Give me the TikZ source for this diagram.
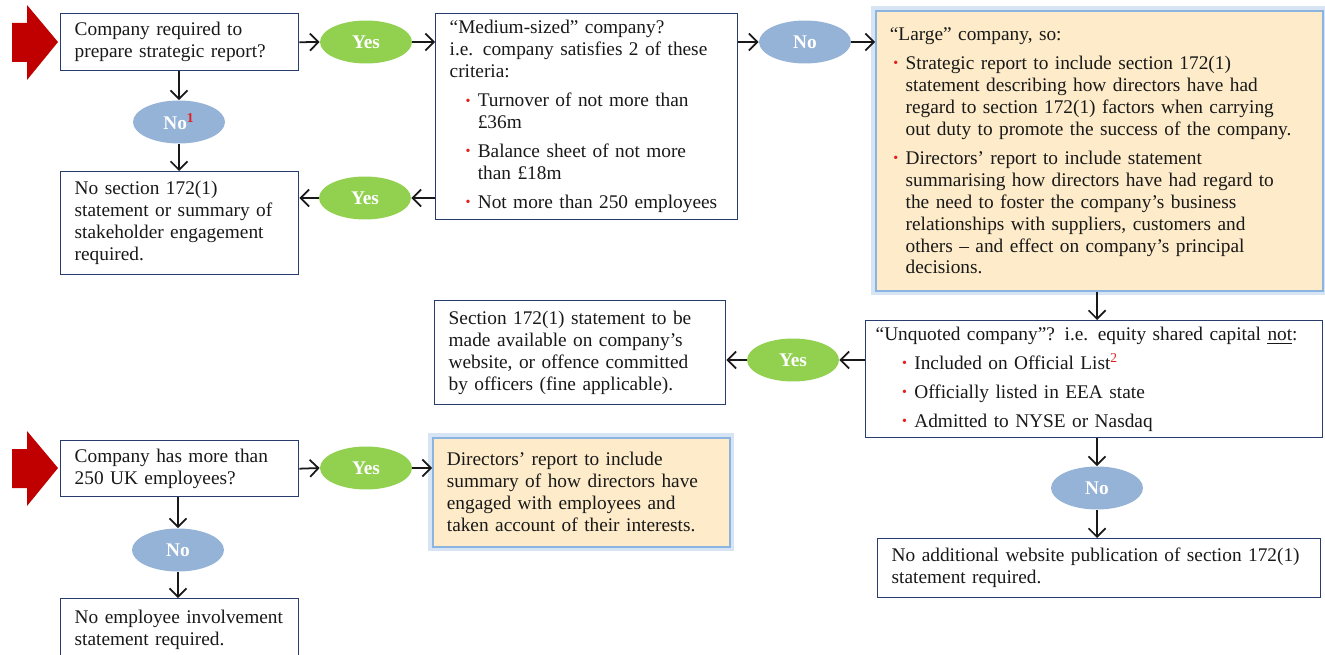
\documentclass[tikz,border=0pt]{standalone}
\usepackage{fontspec}
\setmainfont{Liberation Serif}
\usetikzlibrary{arrows.meta,shapes.geometric}
\definecolor{boxline}{RGB}{40,60,110}
\definecolor{textdark}{RGB}{25,25,25}
\definecolor{glowline}{RGB}{140,180,225}
\definecolor{lightorange}{RGB}{253,235,201}
\definecolor{yesgreen}{RGB}{146,208,80}
\definecolor{noblue}{RGB}{149,179,215}
\definecolor{dotred}{RGB}{230,30,30}
\definecolor{bigred}{RGB}{192,0,0}
\newcommand{\bitem}[2][2pt]{\par\addvspace{4pt}\hangindent=\dimexpr#1+7pt\relax\hangafter=1\noindent\hspace*{#1}\makebox[7pt][l]{\textcolor{dotred}{\raisebox{0.2ex}{\footnotesize\textbullet}}}#2\par}
\tikzset{
  >={Straight Barb[length=1.7mm,width=3.4mm]},
  box/.style={draw=boxline,line width=0.8pt,fill=white,text=textdark,anchor=north west,
    align=left,inner xsep=0.28cm,inner ysep=0.1cm,font=\fontsize{11}{12.5}\selectfont},
  hibox/.style={box,draw=glowline,line width=1pt,fill=lightorange,
    preaction={draw=glowline,line width=5pt,opacity=0.35}},
  yesball/.style={ellipse,fill=yesgreen,minimum width=1.84cm,minimum height=0.86cm,inner sep=0pt,
    text=white,font=\bfseries\fontsize{11}{12}\selectfont},
  noball/.style={yesball,fill=noblue},
  link/.style={->,line width=1pt,draw=textdark}
}
\begin{document}
\begin{tikzpicture}[x=0.02cm,y=-0.02cm]
\useasboundingbox[fill=white] (0,0) rectangle (1325,655);

\foreach \yy in {0,426}
  \fill[bigred,shift={(0,\yy)}] (12,23) -- (27,23) -- (27,5) -- (58,42) -- (27,80) -- (27,62) -- (12,62) -- cycle;

\node[box,text width=4.2cm,minimum height=1.14cm,name=q1] at (60,13) {Company required to\\ prepare strategic report?};
\node[box,text width=5.48cm,minimum height=4.12cm,name=mid] at (435,13) {“Medium-sized” company?\\ i.e. company satisfies 2 of these\\ criteria:
  \bitem[9pt]{Turnover of not more than\newline £36m}
  \bitem[9pt]{Balance sheet of not more\newline than £18m}
  \bitem[9pt]{Not more than 250 employees}};
\node[hibox,text width=8.38cm,minimum height=5.6cm,name=large] at (875,10) {“Large” company, so:
  \bitem{Strategic report to include section 172(1)\newline statement describing how directors have had\newline regard to section 172(1) factors when carrying\newline out duty to promote the success of the company.}
  \bitem{Directors’ report to include statement\newline summarising how directors have had regard to\newline the need to foster the company’s business\newline relationships with suppliers, customers and\newline others – and effect on company’s principal\newline decisions.}};
\node[box,text width=4.2cm,minimum height=2.06cm,name=nosec] at (60,171) {No section 172(1)\\ statement or summary of\\ stakeholder engagement\\ required.};
\node[box,text width=5.26cm,minimum height=2.08cm,name=web] at (434,300) {Section 172(1) statement to be\\ made available on company’s\\ website, or offence committed\\ by officers (fine applicable).};
\node[box,inner xsep=0.2cm,text width=8.74cm,minimum height=2.34cm,name=unq] at (865,320) {“Unquoted company”? i.e. equity shared capital \underline{not}:
  \bitem[15pt]{Included on Official List\textsuperscript{\textcolor{dotred}{2}}}
  \bitem[15pt]{Officially listed in EEA state}
  \bitem[15pt]{Admitted to NYSE or Nasdaq}};
\node[box,text width=8.3cm,minimum height=1.18cm,name=noadd] at (877,538) {No additional website publication of section 172(1)\\ statement required.};
\node[box,text width=4.2cm,minimum height=1.12cm,name=q2] at (60,440) {Company has more than\\ 250 UK employees?};
\node[hibox,text width=5.38cm,minimum height=2.18cm,name=dir] at (432,437) {Directors’ report to include\\ summary of how directors have\\ engaged with employees and\\ taken account of their interests.};
\node[box,text width=4.2cm,minimum height=1.24cm,name=noemp] at (60,598) {No employee involvement\\ statement required.};

\node[yesball,name=yes1] at (366,42) {Yes};
\node[noball,name=no1] at (805,42) {No};
\node[noball,name=nosup] at (179,122) {No\textsuperscript{\textcolor{dotred}{1}}};
\node[yesball,name=yes2] at (365,198) {Yes};
\node[yesball,name=yes3] at (793,360) {Yes};
\node[noball,name=no2] at (1097,488) {No};
\node[yesball,name=yes4] at (366,468) {Yes};
\node[noball,name=no3] at (178,550) {No};

\draw[link] (q1.east) to (yes1.west);
\draw[link] (yes1.east) to (yes1 -| mid.west);
\draw[link] (no1 -| mid.east) to (no1.west);
\draw[link] (no1.east) to (no1 -| large.west);
\draw[link] (q1.south -| nosup) to (nosup.north);
\draw[link] (nosup.south) to (nosup |- nosec.north);
\draw[link] (yes2 -| mid.west) to (yes2.east);
\draw[link] (yes2.west) to (yes2 -| nosec.east);
\draw[link] (no2 |- large.south) to (no2 |- unq.north);
\draw[link] (yes3 -| unq.west) to (yes3.east);
\draw[link] (yes3.west) to (yes3 -| web.east);
\draw[link] (no2 |- unq.south) to (no2.north);
\draw[link] (no2.south) to (no2 |- noadd.north);
\draw[link] (q2.east) to (yes4.west);
\draw[link] (yes4.east) to (yes4 -| dir.west);
\draw[link] (q2.south -| no3) to (no3.north);
\draw[link] (no3.south) to (no3 |- noemp.north);
\end{tikzpicture}
\end{document}
